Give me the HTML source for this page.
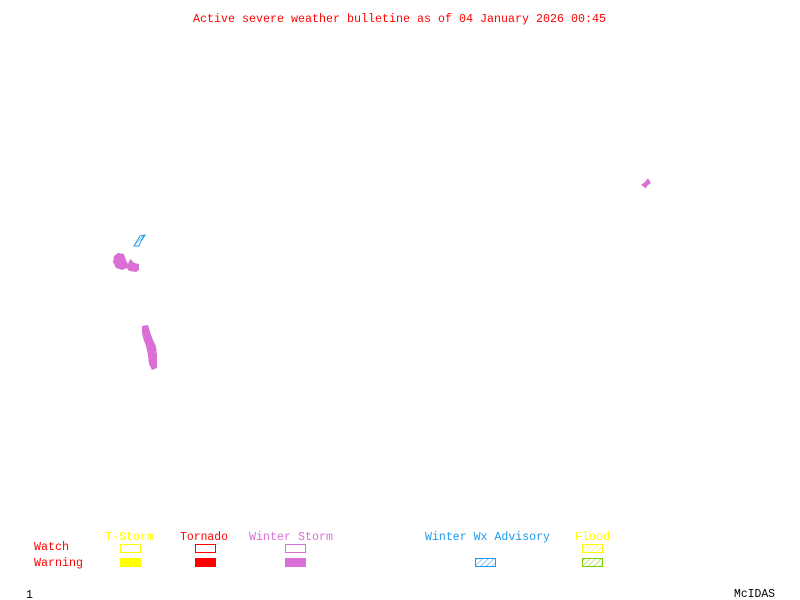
<!DOCTYPE html>
<html><head><meta charset="utf-8"><style>
html,body{margin:0;padding:0;background:#fff;width:800px;height:600px;overflow:hidden}
text{font-family:"Liberation Mono","DejaVu Sans Mono",monospace;font-size:11.5px}
</style></head><body>
<svg width="800" height="600" xmlns="http://www.w3.org/2000/svg" shape-rendering="crispEdges">
<defs>
<pattern id="hb" width="4" height="4" patternUnits="userSpaceOnUse" patternTransform="rotate(45)"><line x1="0" y1="0" x2="0" y2="4" stroke="#1e9bf0" stroke-width="1.2"/></pattern>
<pattern id="hy" width="4" height="4" patternUnits="userSpaceOnUse" patternTransform="rotate(45)"><line x1="0" y1="0" x2="0" y2="4" stroke="#ffff00" stroke-width="1.2"/></pattern>
<pattern id="hg" width="4" height="4" patternUnits="userSpaceOnUse" patternTransform="rotate(45)"><line x1="0" y1="0" x2="0" y2="4" stroke="#7ccd00" stroke-width="1.2"/></pattern>
</defs>
<text x="193" y="22" fill="#ff0000" textLength="413" lengthAdjust="spacingAndGlyphs">Active severe weather bulletine as of 04 January 2026 00:45</text>

<!-- map features -->
<polygon points="134,246 140,236 145,235 141,241 139,246" fill="url(#hb)" stroke="#1e9bf0" stroke-width="1"/>
<polygon points="114,256 118,253 124,254 126,260 128,264 130,259 132,261 134,263 139,264 139,270 136,272 129,271 127,268 122,270 116,268 113,262" fill="#da70d6"/>
<polygon points="142,326 148,325 150,332 153,340 156,346 157,355 157,368 152,370 149,364 148,355 146,346 143,338 142,332" fill="#da70d6"/>
<polygon points="641,185 645,182 648,178 651,183 647,186 646,189 644,187" fill="#da70d6"/>

<!-- legend -->
<text x="34" y="550" fill="#ff0000" textLength="35" lengthAdjust="spacingAndGlyphs">Watch</text>
<text x="34" y="566" fill="#ff0000" textLength="49" lengthAdjust="spacingAndGlyphs">Warning</text>
<text x="105" y="540" fill="#ffff00" textLength="49" lengthAdjust="spacingAndGlyphs">T-Storm</text>
<text x="180" y="540" fill="#ff0000" textLength="48" lengthAdjust="spacingAndGlyphs">Tornado</text>
<text x="249" y="540" fill="#da70d6" textLength="84" lengthAdjust="spacingAndGlyphs">Winter Storm</text>
<text x="425" y="540" fill="#1e9bf0" textLength="125" lengthAdjust="spacingAndGlyphs">Winter Wx Advisory</text>
<text x="575" y="540" fill="#ffff00" textLength="35" lengthAdjust="spacingAndGlyphs">Flood</text>

<rect x="120.5" y="544.5" width="20" height="8" fill="none" stroke="#ffff00"/>
<rect x="120" y="558" width="21" height="9" fill="#ffff00"/>
<rect x="195.5" y="544.5" width="20" height="8" fill="none" stroke="#ff0000"/>
<rect x="195" y="558" width="21" height="9" fill="#ff0000"/>
<rect x="285.5" y="544.5" width="20" height="8" fill="none" stroke="#da70d6"/>
<rect x="285" y="558" width="21" height="9" fill="#da70d6"/>
<rect x="475.5" y="558.5" width="20" height="8" fill="url(#hb)" stroke="#1e9bf0"/>
<rect x="582.5" y="544.5" width="20" height="8" fill="url(#hy)" stroke="#ffff00"/>
<rect x="582.5" y="558.5" width="20" height="8" fill="url(#hg)" stroke="#7ccd00"/>

<text x="26" y="598" fill="#000">1</text>
<text x="734" y="597" fill="#000" textLength="41" lengthAdjust="spacingAndGlyphs">McIDAS</text>
</svg>
</body></html>
